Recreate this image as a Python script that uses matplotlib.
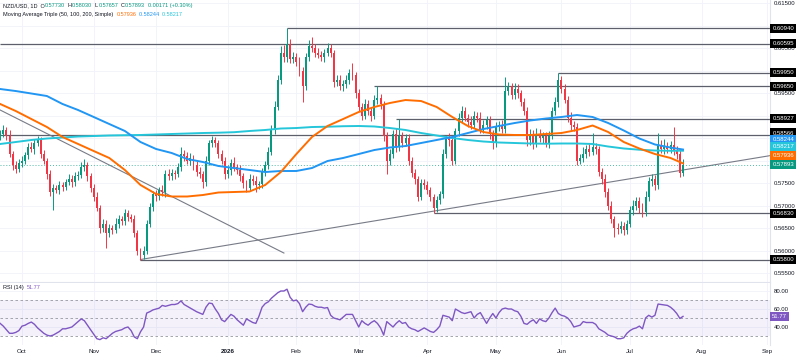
import numpy as np
import pandas as pd
import matplotlib
matplotlib.use("Agg")
import matplotlib.pyplot as plt
from matplotlib.transforms import blended_transform_factory

plt.rcParams['font.family'] = ['Liberation Sans', 'DejaVu Sans']

# daily NZD/USD candles (open = previous close)
start_date = '2025-09-22'
first_open = 0.5855
closes = [
    0.5860, 0.5868, 0.5855, 0.5815, 0.5790, 0.5782, 0.5795, 0.5800, 0.5812, 0.5830,
    0.5825, 0.5840, 0.5845, 0.5815, 0.5800, 0.5770, 0.5730, 0.5738, 0.5735, 0.5745,
    0.5742, 0.5752, 0.5760, 0.5752, 0.5765, 0.5768, 0.5785, 0.5790, 0.5765, 0.5740,
    0.5720, 0.5695, 0.5650, 0.5660, 0.5640, 0.5650, 0.5645, 0.5660, 0.5670, 0.5665,
    0.5683, 0.5675, 0.5670, 0.5640, 0.5598, 0.5590, 0.5600, 0.5660, 0.5697, 0.5725,
    0.5722, 0.5735, 0.5730, 0.5770, 0.5765, 0.5772, 0.5770, 0.5785, 0.5815, 0.5810,
    0.5800, 0.5805, 0.5790, 0.5775, 0.5770, 0.5752, 0.5800, 0.5838, 0.5845, 0.5838,
    0.5815, 0.5800, 0.5770, 0.5778, 0.5795, 0.5785, 0.5780, 0.5765, 0.5750, 0.5740,
    0.5760, 0.5755, 0.5745, 0.5748, 0.5775, 0.5790, 0.5820, 0.5870, 0.5920, 0.5980,
    0.6040, 0.6030, 0.6060, 0.6025, 0.6030, 0.6020, 0.6000, 0.5965, 0.6030, 0.6055,
    0.6050, 0.6040, 0.6035, 0.6030, 0.6040, 0.6050, 0.6040, 0.5975, 0.5980, 0.5965,
    0.5970, 0.5980, 0.5995, 0.5990, 0.5950, 0.5920, 0.5900, 0.5925, 0.5910, 0.5900,
    0.5935, 0.5940, 0.5925, 0.5855, 0.5800, 0.5815, 0.5860, 0.5830, 0.5855, 0.5840,
    0.5850, 0.5800, 0.5772, 0.5760, 0.5720, 0.5750, 0.5745, 0.5735, 0.5718, 0.5695,
    0.5712, 0.5725, 0.5815, 0.5850, 0.5845, 0.5800, 0.5865, 0.5895, 0.5910, 0.5895,
    0.5885, 0.5880, 0.5900, 0.5895, 0.5870, 0.5880, 0.5890, 0.5860, 0.5840, 0.5875,
    0.5880, 0.5870, 0.5955, 0.5965, 0.5945, 0.5960, 0.5950, 0.5930, 0.5910, 0.5845,
    0.5860, 0.5840, 0.5860, 0.5850, 0.5855, 0.5840, 0.5855, 0.5910, 0.5930, 0.5980,
    0.5960, 0.5935, 0.5895, 0.5880, 0.5875, 0.5800, 0.5805, 0.5815, 0.5825, 0.5820,
    0.5830, 0.5825, 0.5775, 0.5760, 0.5730, 0.5700, 0.5670, 0.5650, 0.5648, 0.5655,
    0.5645, 0.5660, 0.5690, 0.5700, 0.5710, 0.5695, 0.5685, 0.5720, 0.5755, 0.5760,
    0.5745, 0.5835, 0.5825, 0.5830, 0.5825, 0.5835, 0.5822, 0.5815, 0.5773, 0.57893,
]
# wick lengths above / below the body, in pips
up_pips = [
    8, 10, 6, 12, 7, 9, 8, 10, 6, 9,
    12, 8, 10, 7, 9, 6, 8, 10, 7, 9,
    8, 6, 10, 7, 9, 8, 12, 14, 6, 8,
    7, 9, 6, 10, 8, 9, 7, 12, 8, 6,
    10, 8, 7, 9, 6, 8, 10, 8, 9, 7,
    9, 7, 10, 8, 12, 9, 7, 10, 15, 8,
    9, 11, 7, 8, 10, 6, 9, 8, 10, 7,
    8, 9, 7, 10, 8, 12, 7, 9, 8, 6,
    9, 8, 10, 7, 8, 9, 10, 8, 12, 10,
    14, 16, 34, 9, 12, 8, 10, 7, 9, 12,
    19, 8, 10, 9, 7, 12, 8, 6, 10, 9,
    8, 10, 9, 22, 7, 9, 8, 12, 9, 8,
    10, 25, 8, 7, 9, 10, 8, 12, 38, 9,
    10, 8, 7, 9, 6, 10, 8, 9, 7, 8,
    9, 8, 10, 7, 12, 9, 8, 10, 12, 8,
    9, 14, 10, 8, 12, 9, 10, 8, 7, 10,
    8, 9, 31, 10, 8, 12, 9, 7, 8, 10,
    9, 8, 12, 10, 9, 8, 10, 9, 12, 15,
    8, 10, 9, 12, 8, 9, 10, 14, 9, 11,
    31, 8, 7, 9, 10, 8, 9, 7, 12, 10,
    9, 8, 10, 12, 8, 9, 10, 12, 9, 10,
    8, 26, 10, 18, 12, 9, 39, 10, 8, 13.7,
]
dn_pips = [
    9, 7, 10, 8, 12, 9, 7, 10, 8, 9,
    7, 10, 8, 9, 8, 10, 9, 40, 8, 10,
    9, 8, 7, 10, 8, 9, 7, 8, 10, 9,
    10, 8, 12, 9, 35, 10, 8, 7, 9, 8,
    8, 9, 7, 10, 8, 10, 9, 7, 8, 10,
    12, 9, 8, 10, 9, 8, 10, 7, 9, 10,
    8, 10, 12, 9, 8, 12, 9, 10, 8, 9,
    10, 8, 12, 9, 10, 8, 9, 10, 12, 9,
    8, 10, 14, 9, 8, 10, 9, 8, 10, 7,
    9, 12, 10, 9, 8, 10, 12, 35, 9, 8,
    9, 10, 8, 9, 10, 8, 9, 12, 10, 9,
    10, 8, 9, 10, 12, 9, 10, 8, 9, 12,
    8, 9, 10, 12, 30, 9, 10, 12, 9, 10,
    8, 10, 9, 12, 10, 8, 9, 10, 8, 12,
    10, 9, 8, 10, 12, 9, 8, 10, 9, 8,
    10, 9, 8, 10, 9, 8, 10, 12, 14, 9,
    10, 8, 9, 10, 8, 9, 10, 8, 9, 12,
    10, 14, 9, 8, 10, 9, 12, 8, 9, 10,
    9, 8, 10, 12, 9, 10, 8, 9, 10, 9,
    8, 10, 9, 12, 10, 9, 8, 20, 12, 10,
    10, 9, 8, 10, 9, 12, 10, 8, 9, 12,
    10, 9, 8, 10, 9, 8, 10, 12, 10, 7.3,
]

# moving averages, sampled every 5 candles
ma_idx = list(range(0, 220, 5)) + [219]
ma50 = [
    0.59256, 0.59100, 0.58922, 0.58744, 0.58522, 0.58367, 0.58211, 0.58056, 0.57789, 0.57456,
    0.57256, 0.57200, 0.57200, 0.57233, 0.57289, 0.57300, 0.57311, 0.57456, 0.57744, 0.58144,
    0.58522, 0.58767, 0.58922, 0.59078, 0.59189, 0.59278, 0.59344, 0.59322, 0.59189, 0.58967,
    0.58767, 0.58633, 0.58578, 0.58567, 0.58567, 0.58589, 0.58611, 0.58678, 0.58778, 0.58633,
    0.58411, 0.58267, 0.58144, 0.58056, 0.57936,
]
ma100 = [
    0.59589, 0.59544, 0.59489, 0.59433, 0.59256, 0.59122, 0.58967, 0.58811, 0.58656, 0.58411,
    0.58256, 0.58167, 0.58033, 0.57967, 0.57878, 0.57833, 0.57789, 0.57744, 0.57767, 0.57767,
    0.57833, 0.57989, 0.58056, 0.58144, 0.58233, 0.58289, 0.58322, 0.58389, 0.58456, 0.58522,
    0.58611, 0.58700, 0.58767, 0.58833, 0.58889, 0.58933, 0.58967, 0.59011, 0.58967, 0.58833,
    0.58667, 0.58489, 0.58356, 0.58289, 0.58244,
]
ma200 = [
    0.58367, 0.58411, 0.58456, 0.58489, 0.58511, 0.58533, 0.58544, 0.58556, 0.58562, 0.58567,
    0.58578, 0.58589, 0.58600, 0.58611, 0.58618, 0.58629, 0.58656, 0.58678, 0.58711, 0.58722,
    0.58744, 0.58751, 0.58762, 0.58767, 0.58756, 0.58722, 0.58678, 0.58611, 0.58556, 0.58500,
    0.58456, 0.58422, 0.58400, 0.58389, 0.58378, 0.58373, 0.58378, 0.58378, 0.58367, 0.58311,
    0.58267, 0.58240, 0.58222, 0.58216, 0.58217,
]

rsi = [
    44, 41, 37, 33, 33, 34, 36, 41, 42, 44,
    45.5, 43, 39, 36, 33, 31, 30, 31, 33, 35,
    38, 38, 39, 40, 43, 46, 49, 47, 42, 37,
    32, 27, 26, 28, 27, 30, 33, 35, 36, 37,
    39, 40, 36, 29, 27, 34.6, 40, 55.5, 57, 59,
    60, 61, 64, 63, 64, 65, 65, 66, 69, 65,
    63, 61, 59, 57, 55.5, 54, 62, 66.6, 66, 60,
    55, 48, 46, 50, 54, 52, 48, 45, 42, 49,
    47, 45, 44, 52, 62, 66, 68, 72, 75, 78,
    80, 80, 82, 73, 69, 70, 66, 57, 62, 65.5,
    65, 63, 62, 62, 61, 61.6, 53, 50, 49, 48,
    51, 54, 54, 54, 47, 40, 47, 44, 42, 45,
    47, 44, 39, 31, 46, 43, 40, 44, 47, 44,
    45, 40, 38, 37, 35, 37, 39, 37, 35, 34,
    37, 41, 53, 52, 51, 47, 60, 58, 56, 55,
    56, 57, 50, 54, 56, 50, 44, 50, 55, 50,
    56, 60, 61, 60, 60, 58, 57, 52, 44, 43,
    46, 48, 44, 49, 47, 46, 50, 56, 61, 55,
    53, 52, 50, 46, 40, 41, 42, 46, 45, 45,
    45, 43, 38, 36, 34, 31, 30, 29, 27, 27,
    28, 33, 36, 38, 39, 41, 38, 50, 53, 51,
    53, 65.5, 65, 64.5, 64, 62, 59, 55, 49.5, 51.77,
]

# horizontal support / resistance levels and the candle they start from
levels = [0.60940, 0.60595, 0.59950, 0.59650, 0.58927, 0.58566, 0.56830, 0.55800]
level_start = [92, 0, 179, 120, 127, 0, 139, 45]
trend_down = [(0, 0.59122), (91, 0.55944)]
trend_up = [(45, 0.55800), (219, 0.57789)]

# price-scale ticks; the ones hidden behind the level boxes get no label
price_ticks = np.arange(0.555, 0.6151, 0.005)
hidden_ticks = [0.610, 0.600, 0.590, 0.585, 0.580]

GREEN = '#089981'
RED = '#F23645'
ORANGE = '#FF6D00'
BLUE = '#2196F3'
CYAN = '#26C6DA'
PURPLE = '#7E57C2'
TXT = '#131722'
GRID = '#f0f3fa'

fig = plt.figure(figsize=(8, 3.58), dpi=100)
ax = fig.add_axes([0, 76 / 358, 770 / 800, 282 / 358])
ax2 = fig.add_axes([0, 13 / 358, 770 / 800, 62 / 358], sharex=ax)
xmax = 246.9

c = np.array(closes)
o = np.r_[first_open, c[:-1]]
hi = np.maximum(o, c) + np.array(up_pips) * 1e-4
lo = np.minimum(o, c) - np.array(dn_pips) * 1e-4
idx = np.arange(len(c))
col = np.where(c >= o, GREEN, RED)

ax.vlines(idx, lo, hi, colors=col, linewidth=0.7, zorder=3)
ax.bar(idx, np.maximum(np.abs(c - o), 0.00006), bottom=np.minimum(o, c),
       width=0.62, color=col, linewidth=0, zorder=4)

ax.plot(ma_idx, ma200, color=CYAN, lw=1.4, zorder=5)
ax.plot(ma_idx, ma100, color=BLUE, lw=1.4, zorder=5)
ax.plot(ma_idx, ma50, color=ORANGE, lw=1.4, zorder=5)

for lv, st in zip(levels, level_start):
    ax.hlines(lv, st, xmax, color='#5d606b', lw=0.9, zorder=2)

(x0, y0), (x1, y1) = trend_down
ax.plot([x0, x1], [y0, y1], color='#787b86', lw=0.8, zorder=2)
(x0, y0), (x1, y1) = trend_up
slope = (y1 - y0) / (x1 - x0)
ax.plot([x0, xmax], [y0, y0 + slope * (xmax - x0)], color='#787b86', lw=0.8, zorder=2)

ax.axhline(closes[-1], color=GREEN, lw=0.7, ls=(0, (1, 2)), alpha=0.7, zorder=2)

ax.set_xlim(-0.05, xmax)
ax.set_ylim(0.55300, 0.61567)
ax.set_yticks(price_ticks)
ax.set_yticklabels(['' if any(abs(t - h) < 1e-6 for h in hidden_ticks) else f'{t:.5f}'
                    for t in price_ticks])
ax.yaxis.tick_right()
ax.tick_params(axis='y', length=0, pad=3, labelsize=4.3, labelcolor=TXT)
ax.tick_params(axis='x', length=0, labelbottom=False)
ax.grid(True, color=GRID, lw=0.6)
ax.set_axisbelow(True)
for s in ['top', 'left']:
    ax.spines[s].set_visible(False)
ax.spines['right'].set_color('#e0e3eb')
ax.spines['bottom'].set_color('#e0e3eb')

# price scale labels
trans = blended_transform_factory(ax.transAxes, ax.transData)
box_labels = [
    (0.60940, 0.60940, 'black'), (0.60595, 0.60595, 'black'), (0.59950, 0.59950, 'black'),
    (0.59650, 0.59650, 'black'), (0.58927, 0.58927, 'black'), (0.58566, 0.58611, 'black'),
    (0.58244, 0.58456, BLUE), (0.58217, 0.58311, CYAN), (0.57936, 0.58111, ORANGE),
    (0.57893, 0.57911, GREEN), (0.56830, 0.56830, 'black'), (0.55800, 0.55800, 'black'),
]
for val, ypos, fc in box_labels:
    ax.text(1.003, ypos, f'{val:.5f}', transform=trans, ha='left', va='center',
            fontsize=4.3, color='white', clip_on=False, zorder=10,
            bbox=dict(boxstyle='square,pad=0.35', fc=fc, ec='none'))

# RSI panel
ax2.axhspan(30, 70, color=PURPLE, alpha=0.08, lw=0)
for lv in [70, 50, 30]:
    ax2.axhline(lv, color='#9598a1', lw=0.6, ls=(0, (3, 3)))
ax2.plot(idx, rsi, color=PURPLE, lw=1.0)
ax2.set_ylim(20, 88.9)
ax2.set_yticks([40, 60, 80])
ax2.yaxis.set_major_formatter(plt.FormatStrFormatter('%.2f'))
ax2.yaxis.tick_right()
ax2.tick_params(axis='y', length=0, pad=3, labelsize=4.3, labelcolor=TXT)
ax2.grid(True, color=GRID, lw=0.6)
ax2.set_axisbelow(True)
for s in ['top', 'left', 'bottom']:
    ax2.spines[s].set_visible(False)
ax2.spines['right'].set_color('#e0e3eb')
trans2 = blended_transform_factory(ax2.transAxes, ax2.transData)
ax2.text(1.003, rsi[-1], f'{rsi[-1]:.2f}', transform=trans2, ha='left', va='center',
         fontsize=4.3, color='white', clip_on=False, zorder=10,
         bbox=dict(boxstyle='square,pad=0.35', fc=PURPLE, ec='none'))

# month ticks
all_days = pd.bdate_range(start_date, periods=260)
tick_pos, tick_lab = [], []
prev = None
for i, d in enumerate(all_days):
    key = (d.year, d.month)
    if key != prev and prev is not None and i <= xmax:
        tick_pos.append(i)
        tick_lab.append(str(d.year) if d.month == 1 else d.strftime('%b'))
    prev = key
ax2.set_xticks(tick_pos)
ax2.set_xticklabels(tick_lab)
ax2.tick_params(axis='x', length=0, pad=3, labelsize=4.5, labelcolor=TXT)
for t in ax2.get_xticklabels():
    if t.get_text().isdigit():
        t.set_fontweight('bold')


def chain(axis, x, y, pieces, size):
    t = axis.text(x, y, pieces[0][0], color=pieces[0][1], fontsize=size,
                  transform=axis.transAxes, va='top', ha='left')
    for s, colr in pieces[1:]:
        t = axis.annotate(s, xy=(1, 0), xycoords=t, va='bottom', ha='left',
                          color=colr, fontsize=size, annotation_clip=False)


chain(ax, 0.004, 0.99, [
    ('NZD/USD, 1D  O', TXT), ('0.57730', GREEN), ('  H', TXT), ('0.58030', GREEN),
    ('  L', TXT), ('0.57657', GREEN), ('  C', TXT), ('0.57893', GREEN),
    ('  0.00171 (+0.30%)', GREEN)], 4.0)
chain(ax, 0.004, 0.958, [
    ('Moving Average Triple (50, 100, 200, Simple)  ', TXT), ('0.57936', ORANGE),
    ('  0.58244', BLUE), ('  0.58217', CYAN)], 4.0)
chain(ax2, 0.004, 0.97, [('RSI (14)  ', TXT), ('51.77', PURPLE)], 4.0)

fig.savefig('out.png', dpi=100)
